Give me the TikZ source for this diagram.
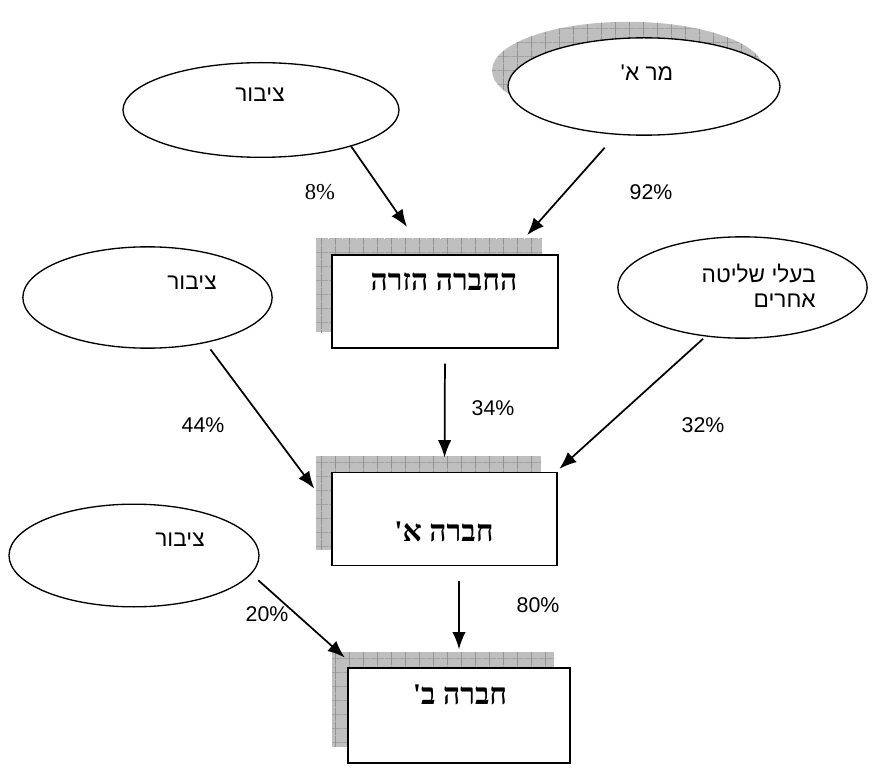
\documentclass[tikz,border=0pt]{standalone}
\usepackage{fontspec}
\usetikzlibrary{shapes.geometric,shadows,patterns.meta,arrows.meta}
\TeXXeTstate=1
\newfontfamily\hebsans[Script=Hebrew]{Liberation Sans}
\newfontfamily\hebserif[Script=Hebrew]{Liberation Serif}
\newfontfamily\numsans{Liberation Sans}
\newfontfamily\numserif{Liberation Serif}

\tikzset{
  gridshadow/.style={
    general shadow={shadow xshift=-12pt, shadow yshift=12pt, fill=gray!50},
    general shadow={shadow xshift=-12pt, shadow yshift=12pt,
      pattern={Hatch[distance=10.5pt,angle=0,line width=0.5pt]}, pattern color=gray!85}},
}

\begin{document}
\begin{tikzpicture}[x=0.75pt,y=-0.75pt]
  \useasboundingbox (0,0) rectangle (893,784);

  \begin{scope}[every node/.style={ellipse, draw, fill=white, line width=1pt, inner sep=0pt}]
    \node[minimum width=207pt, minimum height=71pt] (pub1) at (261,110) {};
    \node[minimum width=204pt, minimum height=73pt, gridshadow] (mra) at (644,86.5) {};
    \node[minimum width=187pt, minimum height=76pt] (pub2) at (147.5,297.5) {};
    \node[minimum width=187pt, minimum height=76pt] (others) at (742.5,287.5) {};
    \node[minimum width=187.5pt, minimum height=77pt] (pub3) at (134,555.5) {};
  \end{scope}

  \begin{scope}[every node/.style={rectangle, draw, fill=white, line width=1.2pt, gridshadow, inner sep=0pt}]
    \node[minimum width=169.5pt, minimum height=70pt] (foreign) at (445,301.5) {};
    \node[minimum width=169pt, minimum height=70pt] (compa) at (444.5,519) {};
    \node[minimum width=166.5pt, minimum height=71pt] (compb) at (459,715.5) {};
  \end{scope}

  % texts of the owners
  \begin{scope}[every node/.style={font=\hebsans\fontsize{17}{19}\selectfont, inner sep=0pt}]
    \node (pub1txt) at (260,95) {\beginR ציבור\endR};
    \node (mratxt) at (647,73) {\beginR מר א'\endR};
    \node (pub2txt) at (192,283) {\beginR ציבור\endR};
    \node[align=right, anchor=east] (otherstxt) at (816,285.5)
      {\beginR בעלי שליטה\endR\\\beginR אחרים\endR};
    \node (pub3txt) at (180,540) {\beginR ציבור\endR};
  \end{scope}

  % texts of the companies
  \begin{scope}[every node/.style={font=\hebserif\bfseries\fontsize{22.5}{26}\selectfont, inner sep=0pt}]
    \node (foreigntxt) at (444,282) {\beginR החברה הזרה\endR};
    \node (compatxt) at (444,532) {\beginR חברה א'\endR};
    \node (compbtxt) at (460,695) {\beginR חברה ב'\endR};
  \end{scope}

  \begin{scope}[every edge/.style={draw, line width=1.3pt, -{Latex[length=13pt,width=10pt]}}]
    \path (pub1.-22.5) edge[shorten >=24.75pt] (foreign.112);
    \path (mra.-120.9) edge[shorten <=13pt, shorten >=19pt] (foreign.36.4);
    \path (foreign.south) edge[shorten <=11pt, shorten >=10.5pt] (compa.north);
    \path (pub2.-38.5) edge[shorten <=6pt, shorten >=21pt] (compa.176.7);
    \path (others.-127.5) edge[shorten <=2.5pt, shorten >=3pt] (compa.23.5);
    \path (compb.north |- compa.south) edge[shorten <=11pt, shorten >=13.5pt] (compb.north);
    \path (pub3.-9.4) edge[shorten <=7pt, shorten >=11pt] (compb.155.6);
  \end{scope}

  % percentages
  \begin{scope}[every node/.style={font=\numsans\fontsize{16}{19}\selectfont, inner sep=0pt}]
    \node[font=\numserif\fontsize{17}{20}\selectfont] (p8) at (320,192) {8\%};
    \node (p92) at (651,192) {92\%};
    \node (p34) at (493,408) {34\%};
    \node (p44) at (203,425) {44\%};
    \node (p32) at (703,425) {32\%};
    \node (p80) at (538,605) {80\%};
    \node (p20) at (267,614) {20\%};
  \end{scope}

\end{tikzpicture}
\end{document}
